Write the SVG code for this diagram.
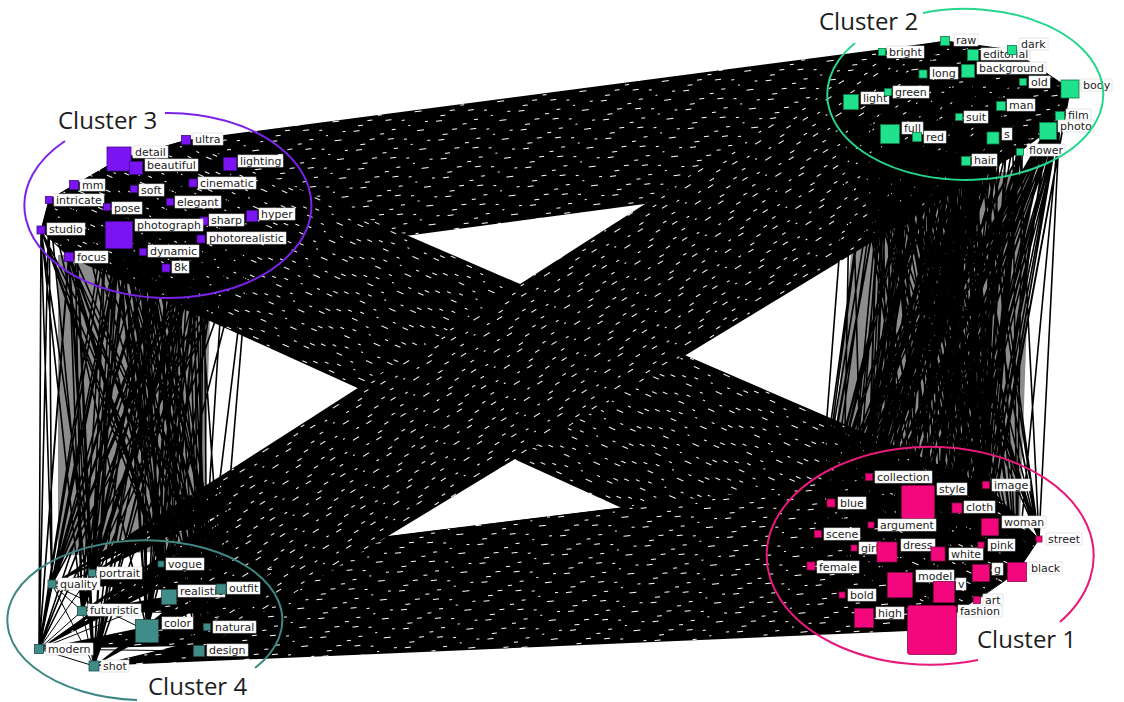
<svg xmlns="http://www.w3.org/2000/svg" width="1124" height="702" viewBox="0 0 1124 702">
<defs>
  <!-- dark bundle fill with the small gaps left between parallel edges -->
  <pattern id="spk" width="83" height="19" patternUnits="userSpaceOnUse">
    <rect width="83" height="19" fill="#000"/>
    <rect x="3" y="2" width="6" height="1" fill="#fff"/>
    <rect x="41" y="5" width="4" height="1" fill="#fff"/>
    <rect x="66" y="9" width="7" height="1" fill="#fff"/>
    <rect x="18" y="12" width="5" height="1" fill="#fff"/>
    <rect x="52" y="16" width="3" height="1" fill="#fff"/>
    <rect x="75" y="1" width="3" height="1" fill="#fff"/>
    <rect x="29" y="8" width="4" height="1" fill="#fff"/>
    <rect x="8" y="16" width="5" height="1" fill="#fff"/>
    <rect x="58" y="3" width="2" height="1" fill="#fff"/>
    <rect x="36" y="14" width="6" height="1" fill="#fff"/>
  </pattern>
  <pattern id="spT" href="#spk" patternTransform="rotate(-7)"/>
  <pattern id="spB" href="#spk" patternTransform="rotate(-6)"/>
  <pattern id="spA" href="#spk" patternTransform="rotate(24)"/>
  <pattern id="spD" href="#spk" patternTransform="rotate(-32)"/>
</defs>
<style>
  .bt { fill:url(#spT); }
  .bb { fill:url(#spB); }
  .ba { fill:url(#spA); }
  .bd { fill:url(#spD); }
  .under { fill:#000; fill-opacity:0.45; }
  .e { fill:none; stroke:#000; stroke-width:1; stroke-linejoin:bevel; }
  .eb { fill:none; stroke:#000; stroke-width:1.6; stroke-linejoin:bevel; }
  .lb { fill:#fff; stroke:#d4d4d4; stroke-width:0.6; }
  .t { font-family:"DejaVu Sans", Verdana, sans-serif; font-size:11px; fill:#222; }
  .c1 { fill:#f2077d; stroke:#8c0847; stroke-width:0.8; }
  .c2 { fill:#20e28c; stroke:#0f7a4b; stroke-width:0.8; }
  .c3 { fill:#7a14f2; stroke:#420a85; stroke-width:0.8; }
  .c4 { fill:#3f8c88; stroke:#1e4c49; stroke-width:0.8; }
  .hull { fill:none; stroke-width:2; }
  .title { font-family:"Open Sans", "Liberation Sans", sans-serif; font-size:24px; fill:#1c1c1c; }
</style>
<rect width="1124" height="702" fill="#fff"/>

<!-- edges between and inside the four communities -->
<g id="edges">
  <!-- overlap in the cores of the vertical bundles -->
  <polygon class="under" points="58,255 212,250 203,550 58,556"/>
  <polygon class="under" points="858,172 1032,172 1020,522 828,522"/>
  <!-- dense bundles: Cluster 3 <-> Cluster 2 and Cluster 3 <-> Cluster 1 -->
  <polygon class="bt" points="41,230 49,200 74,185 119,159 186,140 945,41 1012,50 1070,89 1048,131 1020,152 966,161 166,268 69,257"/>
  <polygon class="ba" points="41,230 49,200 74,185 119,159 186,140 986,485 1039,539 1017,572 932,630 864,618 69,257"/>
  <!-- Cluster 4 -> Cluster 1 fans -->
  <polygon class="bb" points="161,564 869,477 932,630"/>
  <polygon class="bb" points="92,573 869,477 932,630"/>
  <polygon class="bb" points="52,584 869,477 932,630"/>
  <polygon class="bb" points="169,597 869,477 932,630"/>
  <polygon class="bb" points="221,589 869,477 932,630"/>
  <polygon class="bb" points="82,611 869,477 932,630"/>
  <polygon class="bb" points="147,631 869,477 932,630"/>
  <polygon class="bb" points="207,627 869,477 932,630"/>
  <polygon class="bb" points="39,649 869,477 932,630"/>
  <polygon class="bb" points="199,651 869,477 932,630"/>
  <polygon class="bb" points="94,666 869,477 932,630"/>
  <!-- Cluster 4 -> Cluster 2 fans -->
  <polygon class="bd" points="161,564 882,52 1020,152"/>
  <polygon class="bd" points="92,573 882,52 1020,152"/>
  <polygon class="bd" points="52,584 882,52 1020,152"/>
  <polygon class="bd" points="169,597 882,52 1020,152"/>
  <polygon class="bd" points="221,589 882,52 1020,152"/>
  <polygon class="bd" points="82,611 882,52 1020,152"/>
  <polygon class="bd" points="147,631 882,52 1020,152"/>
  <polygon class="bd" points="207,627 882,52 1020,152"/>
  <polygon class="bd" points="39,649 882,52 1020,152"/>
  <polygon class="bd" points="199,651 882,52 1020,152"/>
  <polygon class="bd" points="94,666 882,52 1020,152"/>
  <!-- Cluster 3 <-> Cluster 4 -->
  <path class="eb" d="M186 140L161 564 119 159 92 573 136 168 52 584 230 164 169 597 193 183 221 589 74 185 82 611 134 189 147 631 170 202 207 627 49 200 39 649 107 207 199 651 252 216 94 666 204 221 161 564 119 235 92 573 41 230 52 584 201 239 169 597 143 252 221 589 69 257 82 611 166 268 147 631 186 140 207 627 119 159 39 649 136 168 199 651 230 164 94 666 193 183 161 564 74 185 92 573 134 189 52 584 170 202 169 597 49 200 221 589 107 207 82 611 252 216 147 631 204 221 207 627 119 235 39 649 41 230 199 651 201 239 94 666 143 252 161 564 69 257 92 573 166 268 52 584 186 140 169 597 119 159 221 589 136 168 82 611 230 164 147 631 193 183 207 627 74 185 39 649 134 189 199 651 170 202 94 666 49 200 161 564 107 207 92 573 252 216 52 584 204 221 169 597 119 235 221 589 41 230 82 611 201 239 147 631 143 252 207 627 69 257 39 649 166 268 199 651 186 140 94 666 119 159 161 564 136 168 92 573 230 164 52 584 193 183 169 597 74 185 221 589 134 189 82 611 170 202 147 631 49 200 207 627 107 207 39 649 252 216 199 651 204 221 94 666 119 235 161 564 41 230 92 573 201 239 52 584 143 252 169 597 69 257 221 589 166 268 82 611 186 140 147 631 119 159 207 627 136 168 39 649 230 164 199 651 193 183 94 666 74 185 161 564 134 189 92 573 170 202 52 584 49 200 169 597 107 207 221 589 252 216 82 611 204 221 147 631 119 235 207 627 41 230 39 649 201 239 199 651 143 252 94 666 69 257 161 564 166 268 92 573"/>
  <!-- Cluster 2 <-> Cluster 1 -->
  <path class="eb" d="M945 41L869 477 882 52 918 502 973 55 986 485 1012 50 831 503 968 71 957 508 923 74 990 527 1023 82 871 525 1070 89 818 534 851 102 1039 539 888 92 854 548 1001 106 887 552 959 117 938 554 1060 116 981 545 1048 131 811 566 890 134 981 573 917 137 1017 572 993 138 900 585 1020 152 944 592 966 161 842 595 945 41 977 600 882 52 864 618 973 55 932 630 1012 50 869 477 968 71 918 502 923 74 986 485 1023 82 831 503 1070 89 957 508 851 102 990 527 888 92 871 525 1001 106 818 534 959 117 1039 539 1060 116 854 548 1048 131 887 552 890 134 938 554 917 137 981 545 993 138 811 566 1020 152 981 573 966 161 1017 572 945 41 900 585 882 52 944 592 973 55 842 595 1012 50 977 600 968 71 864 618 923 74 932 630 1023 82 869 477 1070 89 918 502 851 102 986 485 888 92 831 503 1001 106 957 508 959 117 990 527 1060 116 871 525 1048 131 818 534 890 134 1039 539 917 137 854 548 993 138 887 552 1020 152 938 554 966 161 981 545 945 41 811 566 882 52 981 573 973 55 1017 572 1012 50 900 585 968 71 944 592 923 74 842 595 1023 82 977 600 1070 89 864 618 851 102 932 630 888 92 869 477 1001 106 918 502 959 117 986 485 1060 116 831 503 1048 131 957 508 890 134 990 527 917 137 871 525 993 138 818 534 1020 152 1039 539 966 161 854 548 945 41 887 552 882 52 938 554 973 55 981 545 1012 50 811 566 968 71 981 573 923 74 1017 572 1023 82 900 585 1070 89 944 592 851 102 842 595 888 92 977 600 1001 106 864 618 959 117 932 630 1060 116 869 477 1048 131 918 502 890 134 986 485 917 137 831 503 993 138 957 508 1020 152 990 527 966 161 871 525 945 41 818 534 882 52 1039 539 973 55 854 548 1012 50 887 552 968 71 938 554 923 74 981 545 1023 82 811 566 1070 89 981 573 851 102 1017 572 888 92 900 585 1001 106 944 592 959 117 842 595 1060 116 977 600 1048 131 864 618 890 134 932 630 917 137 869 477 993 138 918 502 1020 152 986 485 966 161 831 503 945 41 957 508 882 52 990 527 973 55 871 525 1012 50 818 534 968 71 1039 539 923 74 854 548 1023 82 887 552 1070 89 938 554 851 102 981 545 888 92 811 566 1001 106 981 573 959 117 1017 572 1060 116 900 585 1048 131 944 592 890 134 842 595 917 137 977 600 993 138 864 618 1020 152 932 630"/>
  <!-- links inside the communities -->
  <path class="e" d="M1039 539L990 527M1039 539L981 545M1039 539L938 554M1039 539L1017 572M1039 539L981 573M1039 539L944 592M1039 539L977 600M1039 539L986 485M1039 539L957 508M1039 539L932 630M1039 539L900 585M977 600L1017 572M977 600L944 592M977 600L981 573M977 600L900 585M1070 89L1023 82M1070 89L1012 50M1070 89L1001 106M1070 89L1060 116M1070 89L1048 131M1070 89L993 138M1070 89L968 71M1070 89L1020 152M1070 89L945 41M945 41L882 52M945 41L973 55M945 41L968 71M945 41L923 74M945 41L1012 50M945 41L1023 82M39 649L52 584M39 649L82 611M39 649L94 666M39 649L92 573M39 649L147 631M39 649L199 651M39 649L169 597M52 584L82 611M52 584L94 666M52 584L147 631M52 584L92 573M94 666L82 611M94 666L147 631M94 666L199 651M41 230L49 200M41 230L69 257M49 200L74 185"/>
</g>

<!-- Cluster 2 -->
<g id="n-raw"><rect class="lb" x="954" y="34" width="24" height="12"/><text class="t" x="956" y="43.5">raw</text><rect class="c2" x="940.5" y="36.5" width="9" height="9"/></g>
<g id="n-bright"><rect class="lb" x="887" y="46" width="37" height="12"/><text class="t" x="889" y="55.5">bright</text><rect class="c2" x="878.5" y="48.5" width="7" height="7"/></g>
<g id="n-editorial"><rect class="lb" x="981" y="48" width="49" height="12"/><text class="t" x="983" y="57.5">editorial</text><rect class="c2" x="967.5" y="49.5" width="11" height="11"/></g>
<g id="n-dark"><rect class="lb" x="1019" y="38" width="29" height="12"/><text class="t" x="1021" y="47.5">dark</text><rect class="c2" x="1007.5" y="45.5" width="9" height="9"/></g>
<g id="n-background"><rect class="lb" x="977" y="62" width="69" height="12"/><text class="t" x="979" y="71.5">background</text><rect class="c2" x="961.5" y="64.5" width="13" height="13"/></g>
<g id="n-long"><rect class="lb" x="930" y="67" width="28" height="12"/><text class="t" x="932" y="76.5">long</text><rect class="c2" x="919" y="70" width="8" height="8"/></g>
<g id="n-old"><rect class="lb" x="1029" y="76" width="21" height="12"/><text class="t" x="1031" y="85.5">old</text><rect class="c2" x="1019.5" y="78.5" width="7" height="7"/></g>
<g id="n-body"><rect class="lb" x="1081" y="79" width="31" height="12"/><text class="t" x="1083" y="88.5">body</text><rect class="c2" x="1061" y="80" width="18" height="18"/></g>
<g id="n-light"><rect class="lb" x="861" y="92" width="28" height="12"/><text class="t" x="863" y="101.5">light</text><rect class="c2" x="843.5" y="94.5" width="15" height="15"/></g>
<g id="n-green"><rect class="lb" x="893" y="86" width="36" height="12"/><text class="t" x="895" y="95.5">green</text><rect class="c2" x="884.5" y="88.5" width="7" height="7"/></g>
<g id="n-man"><rect class="lb" x="1007" y="99" width="28" height="12"/><text class="t" x="1009" y="108.5">man</text><rect class="c2" x="996.5" y="101.5" width="9" height="9"/></g>
<g id="n-suit"><rect class="lb" x="964" y="111" width="24" height="12"/><text class="t" x="966" y="120.5">suit</text><rect class="c2" x="955.5" y="113.5" width="7" height="7"/></g>
<g id="n-film"><rect class="lb" x="1066" y="109" width="25" height="12"/><text class="t" x="1068" y="118.5">film</text><rect class="c2" x="1055.5" y="111.5" width="9" height="9"/></g>
<g id="n-photo"><rect class="lb" x="1058" y="120" width="36" height="12"/><text class="t" x="1060" y="129.5">photo</text><rect class="c2" x="1039.5" y="122.5" width="17" height="17"/></g>
<g id="n-full"><rect class="lb" x="902" y="122" width="21" height="12"/><text class="t" x="904" y="131.5">full</text><rect class="c2" x="880.5" y="124.5" width="19" height="19"/></g>
<g id="n-red"><rect class="lb" x="924" y="131" width="22" height="12"/><text class="t" x="926" y="140.5">red</text><rect class="c2" x="912.5" y="132.5" width="9" height="9"/></g>
<g id="n-s"><rect class="lb" x="1002" y="128" width="10" height="12"/><text class="t" x="1004" y="137.5">s</text><rect class="c2" x="987" y="132" width="12" height="12"/></g>
<g id="n-flower"><rect class="lb" x="1027" y="144" width="38" height="12"/><text class="t" x="1029" y="153.5">flower</text><rect class="c2" x="1016.5" y="148.5" width="7" height="7"/></g>
<g id="n-hair"><rect class="lb" x="972" y="154" width="25" height="12"/><text class="t" x="974" y="163.5">hair</text><rect class="c2" x="961.5" y="156.5" width="9" height="9"/></g>

<!-- Cluster 3 -->
<g id="n-ultra"><rect class="lb" x="193" y="133" width="30" height="12"/><text class="t" x="195" y="142.5">ultra</text><rect class="c3" x="181.5" y="135.5" width="9" height="9"/></g>
<g id="n-detail"><rect class="lb" x="133" y="146" width="35" height="12"/><text class="t" x="135" y="155.5">detail</text><rect class="c3" x="107" y="147" width="24" height="24"/></g>
<g id="n-beautiful"><rect class="lb" x="145" y="159" width="53" height="12"/><text class="t" x="147" y="168.5">beautiful</text><rect class="c3" x="129.5" y="161.5" width="13" height="13"/></g>
<g id="n-lighting"><rect class="lb" x="238" y="155" width="45" height="12"/><text class="t" x="240" y="164.5">lighting</text><rect class="c3" x="223.5" y="157.5" width="13" height="13"/></g>
<g id="n-cinematic"><rect class="lb" x="198" y="177" width="58" height="12"/><text class="t" x="200" y="186.5">cinematic</text><rect class="c3" x="189" y="179" width="8" height="8"/></g>
<g id="n-mm"><rect class="lb" x="80" y="179" width="25" height="12"/><text class="t" x="82" y="188.5">mm</text><rect class="c3" x="69.5" y="180.5" width="9" height="9"/></g>
<g id="n-soft"><rect class="lb" x="139" y="184" width="25" height="12"/><text class="t" x="141" y="193.5">soft</text><rect class="c3" x="130.5" y="185.5" width="7" height="7"/></g>
<g id="n-elegant"><rect class="lb" x="175" y="196" width="46" height="12"/><text class="t" x="177" y="205.5">elegant</text><rect class="c3" x="166.5" y="198.5" width="7" height="7"/></g>
<g id="n-intricate"><rect class="lb" x="54" y="194" width="50" height="12"/><text class="t" x="56" y="203.5">intricate</text><rect class="c3" x="45.5" y="196.5" width="7" height="7"/></g>
<g id="n-pose"><rect class="lb" x="112" y="202" width="30" height="12"/><text class="t" x="114" y="211.5">pose</text><rect class="c3" x="103.5" y="203.5" width="7" height="7"/></g>
<g id="n-hyper"><rect class="lb" x="259" y="208" width="36" height="12"/><text class="t" x="261" y="217.5">hyper</text><rect class="c3" x="246.5" y="210.5" width="11" height="11"/></g>
<g id="n-sharp"><rect class="lb" x="209" y="214" width="35" height="12"/><text class="t" x="211" y="223.5">sharp</text><rect class="c3" x="200" y="217" width="8" height="8"/></g>
<g id="n-photograph"><rect class="lb" x="135" y="219" width="68" height="12"/><text class="t" x="137" y="228.5">photograph</text><rect class="c3" x="105.5" y="221.5" width="27" height="27"/></g>
<g id="n-studio"><rect class="lb" x="47" y="223" width="38" height="12"/><text class="t" x="49" y="232.5">studio</text><rect class="c3" x="37" y="226" width="8" height="8"/></g>
<g id="n-photorealistic"><rect class="lb" x="207" y="232" width="79" height="12"/><text class="t" x="209" y="241.5">photorealistic</text><rect class="c3" x="197" y="235" width="8" height="8"/></g>
<g id="n-dynamic"><rect class="lb" x="148" y="245" width="51" height="12"/><text class="t" x="150" y="254.5">dynamic</text><rect class="c3" x="139.5" y="248.5" width="7" height="7"/></g>
<g id="n-focus"><rect class="lb" x="75" y="251" width="33" height="12"/><text class="t" x="77" y="260.5">focus</text><rect class="c3" x="64.5" y="252.5" width="9" height="9"/></g>
<g id="n-8k"><rect class="lb" x="172" y="261" width="17" height="12"/><text class="t" x="174" y="270.5">8k</text><rect class="c3" x="162" y="264" width="8" height="8"/></g>

<!-- Cluster 1 -->
<g id="n-collection"><rect class="lb" x="875" y="471" width="57" height="12"/><text class="t" x="877" y="480.5">collection</text><rect class="c1" x="865.5" y="473.5" width="7" height="7"/></g>
<g id="n-style"><rect class="lb" x="937" y="483" width="30" height="12"/><text class="t" x="939" y="492.5">style</text><rect class="c1" x="901.5" y="485.5" width="33" height="33" rx="1.5"/></g>
<g id="n-image"><rect class="lb" x="992" y="479" width="38" height="12"/><text class="t" x="994" y="488.5">image</text><rect class="c1" x="982.5" y="481.5" width="7" height="7"/></g>
<g id="n-blue"><rect class="lb" x="838" y="497" width="28" height="12"/><text class="t" x="840" y="506.5">blue</text><rect class="c1" x="827" y="499" width="8" height="8"/></g>
<g id="n-cloth"><rect class="lb" x="964" y="501" width="31" height="12"/><text class="t" x="966" y="510.5">cloth</text><rect class="c1" x="952" y="503" width="10" height="10"/></g>
<g id="n-woman"><rect class="lb" x="1002" y="516" width="44" height="12"/><text class="t" x="1004" y="525.5">woman</text><rect class="c1" x="981.5" y="518.5" width="17" height="17"/></g>
<g id="n-argument"><rect class="lb" x="878" y="519" width="58" height="12"/><text class="t" x="880" y="528.5">argument</text><rect class="c1" x="868" y="522" width="6" height="6"/></g>
<g id="n-scene"><rect class="lb" x="824" y="528" width="36" height="12"/><text class="t" x="826" y="537.5">scene</text><rect class="c1" x="814.5" y="530.5" width="7" height="7"/></g>
<g id="n-street"><rect class="lb" x="1046" y="533" width="36" height="12"/><text class="t" x="1048" y="542.5">street</text><rect class="c1" x="1036" y="536" width="6" height="6"/></g>
<g id="n-girl"><rect class="lb" x="859" y="542" width="22" height="12"/><text class="t" x="861" y="551.5">girl</text><rect class="c1" x="851" y="545" width="6" height="6"/></g>
<g id="n-dress"><rect class="lb" x="901" y="539" width="34" height="12"/><text class="t" x="903" y="548.5">dress</text><rect class="c1" x="877" y="542" width="20" height="20"/></g>
<g id="n-white"><rect class="lb" x="949" y="548" width="34" height="12"/><text class="t" x="951" y="557.5">white</text><rect class="c1" x="931" y="547" width="14" height="14"/></g>
<g id="n-pink"><rect class="lb" x="988" y="539" width="27" height="12"/><text class="t" x="990" y="548.5">pink</text><rect class="c1" x="978" y="542" width="6" height="6"/></g>
<g id="n-female"><rect class="lb" x="817" y="561" width="42" height="12"/><text class="t" x="819" y="570.5">female</text><rect class="c1" x="807" y="562" width="8" height="8"/></g>
<g id="n-g"><rect class="lb" x="992" y="563" width="11" height="12"/><text class="t" x="994" y="572.5">g</text><rect class="c1" x="972.5" y="564.5" width="17" height="17"/></g>
<g id="n-black"><rect class="lb" x="1029" y="562" width="33" height="12"/><text class="t" x="1031" y="571.5">black</text><rect class="c1" x="1007.5" y="562.5" width="19" height="19"/></g>
<g id="n-model"><rect class="lb" x="916" y="570" width="38" height="12"/><text class="t" x="918" y="579.5">model</text><rect class="c1" x="887.5" y="572.5" width="25" height="25"/></g>
<g id="n-v"><rect class="lb" x="956" y="578" width="10" height="12"/><text class="t" x="958" y="587.5">v</text><rect class="c1" x="933.5" y="581.5" width="21" height="21"/></g>
<g id="n-bold"><rect class="lb" x="848" y="589" width="28" height="12"/><text class="t" x="850" y="598.5">bold</text><rect class="c1" x="839" y="592" width="6" height="6"/></g>
<g id="n-art"><rect class="lb" x="983" y="594" width="20" height="12"/><text class="t" x="985" y="603.5">art</text><rect class="c1" x="973.5" y="596.5" width="7" height="7"/></g>
<g id="n-high"><rect class="lb" x="876" y="607" width="28" height="12"/><text class="t" x="878" y="616.5">high</text><rect class="c1" x="854.5" y="608.5" width="19" height="19"/></g>
<g id="n-fashion"><rect class="lb" x="958" y="605" width="44" height="12"/><text class="t" x="960" y="614.5">fashion</text><rect class="c1" x="907.5" y="605.5" width="49" height="49" rx="2.5"/></g>

<!-- Cluster 4 -->
<g id="n-vogue"><rect class="lb" x="166" y="558" width="38" height="12"/><text class="t" x="168" y="567.5">vogue</text><rect class="c4" x="158" y="561" width="6" height="6"/></g>
<g id="n-portrait"><rect class="lb" x="97" y="567" width="45" height="12"/><text class="t" x="99" y="576.5">portrait</text><rect class="c4" x="88.5" y="569.5" width="7" height="7"/></g>
<g id="n-quality"><rect class="lb" x="58" y="578" width="42" height="12"/><text class="t" x="60" y="587.5">quality</text><rect class="c4" x="48" y="580" width="8" height="8"/></g>
<g id="n-realistic"><rect class="lb" x="178" y="585" width="47" height="12"/><text class="t" x="180" y="594.5">realistic</text><rect class="c4" x="161.5" y="589.5" width="15" height="15"/></g>
<g id="n-outfit"><rect class="lb" x="227" y="582" width="33" height="12"/><text class="t" x="229" y="591.5">outfit</text><rect class="c4" x="216" y="584" width="10" height="10"/></g>
<g id="n-futuristic"><rect class="lb" x="88" y="604" width="53" height="12"/><text class="t" x="90" y="613.5">futuristic</text><rect class="c4" x="77.5" y="606.5" width="9" height="9"/></g>
<g id="n-color"><rect class="lb" x="162" y="617" width="31" height="12"/><text class="t" x="164" y="626.5">color</text><rect class="c4" x="135.5" y="619.5" width="23" height="23"/></g>
<g id="n-natural"><rect class="lb" x="213" y="621" width="43" height="12"/><text class="t" x="215" y="630.5">natural</text><rect class="c4" x="203.5" y="623.5" width="7" height="7"/></g>
<g id="n-modern"><rect class="lb" x="46" y="643" width="47" height="12"/><text class="t" x="48" y="652.5">modern</text><rect class="c4" x="34.5" y="644.5" width="9" height="9"/></g>
<g id="n-design"><rect class="lb" x="207" y="644" width="41" height="12"/><text class="t" x="209" y="653.5">design</text><rect class="c4" x="193.5" y="645.5" width="11" height="11"/></g>
<g id="n-shot"><rect class="lb" x="101" y="660" width="28" height="12"/><text class="t" x="103" y="669.5">shot</text><rect class="c4" x="89" y="661" width="10" height="10"/></g>

<!-- community outlines and their names -->
<g id="cluster-outlines">
  <path class="hull" stroke="#25d68c" d="M923 13A138 85.5 0 1 1 855 43"/>
  <path class="hull" stroke="#7a22e8" d="M165 113A143.5 92.5 0 1 1 65 141"/>
  <path class="hull" stroke="#e8197b" d="M978 660A163.5 109 0 1 1 1060 622"/>
  <path class="hull" stroke="#3e8782" d="M137 700A137.5 80 0 1 1 255 668"/>
  <text class="title" x="819" y="30">Cluster 2</text>
  <text class="title" x="58" y="129">Cluster 3</text>
  <text class="title" x="977" y="648">Cluster 1</text>
  <text class="title" x="148" y="695">Cluster 4</text>
</g>
</svg>
